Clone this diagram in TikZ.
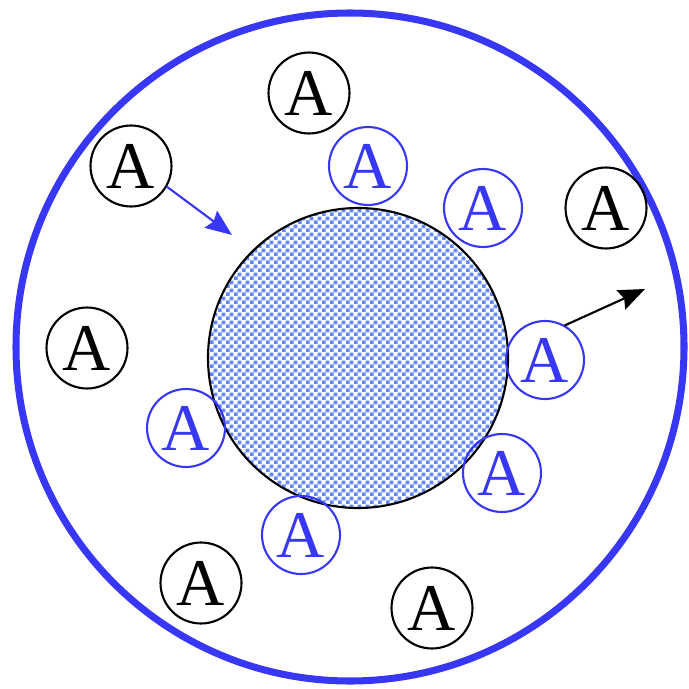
\documentclass[tikz,border=0pt]{standalone}
\usepackage{fontspec}
\setmainfont{Liberation Serif}
\usetikzlibrary{patterns,arrows.meta}
\definecolor{ringblue}{RGB}{55,55,245}
\definecolor{dotblue}{RGB}{95,135,255}
\pgfdeclarepatternformonly{finechecker}{\pgfpointorigin}{\pgfqpoint{4.6pt}{4.6pt}}{\pgfqpoint{4.6pt}{4.6pt}}{
	\pgfpathrectangle{\pgfpointorigin}{\pgfqpoint{2.3pt}{2.3pt}}
	\pgfpathrectangle{\pgfqpoint{2.3pt}{2.3pt}}{\pgfqpoint{2.3pt}{2.3pt}}
	\pgfusepath{fill}}
\tikzset{
	ball/.style={circle,draw,line width=1.2pt,minimum size=1.62cm,inner sep=0pt,
		font=\fontsize{38}{38}\selectfont},
	bball/.style={ball,draw=ringblue,text=ringblue,minimum size=1.56cm}
}
\begin{document}
\begin{tikzpicture}[x=0.02cm,y=-0.02cm,line join=round,line cap=round,
	>={Stealth[length=15pt,width=12pt,inset=2pt]}]
	\useasboundingbox (0,0) rectangle (689,689);
	\draw[ringblue,line width=4pt] (350,347) circle (334);
	\path[pattern=finechecker,pattern color=dotblue] (358,358) circle (150);
	\draw[line width=1.2pt] (358,358) circle (150);
	% molecules in the solution
	\foreach \n/\x/\y in {k1/309/93,k2/131/166,k3/606/208,k4/87/348,k5/201/583,k6/432/608}
	\node[ball] (\n) at (\x,\y) {A};
	% molecules at the surface
	\foreach \n/\x/\y in {s1/368/166,s2/483/208,s3/545/360,s4/186/428,s5/502/473,s6/301/535}
	\node[bball] (\n) at (\x,\y) {A};
	\path
	(232,235) coordinate (inTip)
	(645,289) coordinate (outTip)
	;
	\draw[->,ringblue,line width=1.2pt] (k2.-30) -- (inTip);
	\draw[->,line width=1.2pt] (s3.60) -- (outTip);
\end{tikzpicture}
\end{document}
